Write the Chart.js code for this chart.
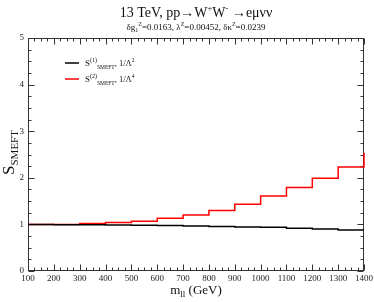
<!DOCTYPE html>
<html>
<head>
<meta charset="utf-8">
<script src="https://cdn.jsdelivr.net/npm/chart.js@4/dist/chart.umd.min.js"></script>
<style>
  html, body { margin: 0; padding: 0; background: #fff; }
  #wrap { width: 374px; height: 302px; position: relative; }
</style>
</head>
<body>
<div id="wrap"><canvas id="c" width="374" height="302"></canvas></div>
<script>
// ---- data ----
const binStarts = [100, 200, 300, 400, 500, 600, 700, 800, 900, 1000, 1100, 1200, 1300, 1400];
const smeft1 = [1.00, 0.995, 0.99, 0.985, 0.98, 0.975, 0.965, 0.955, 0.945, 0.94, 0.915, 0.90, 0.88, 0.88];
const smeft2 = [1.00, 1.00, 1.02, 1.04, 1.07, 1.13, 1.20, 1.30, 1.43, 1.61, 1.79, 1.99, 2.23, 2.54];
const xTicks = [100, 200, 300, 400, 500, 600, 700, 800, 900, 1000, 1100, 1200, 1300, 1400];
const yTicks = [0, 1, 2, 3, 4, 5];
const seriesNames = ['S(1) SMEFT, 1/Λ2', 'S(2) SMEFT, 1/Λ4'];

const SERIF = '"Liberation Serif", "Times New Roman", serif';
const FRAME = '#333';

function runsWidth(ctx, runs) {
  let w = 0;
  for (const r of runs) { ctx.font = r.size + 'px ' + SERIF; w += ctx.measureText(r.t).width; }
  return w;
}
function drawRuns(ctx, runs, x, y, align) {
  let w = runsWidth(ctx, runs);
  let cx = align === 'center' ? x - w / 2 : (align === 'right' ? x - w : x);
  ctx.textAlign = 'left';
  ctx.textBaseline = 'alphabetic';
  for (const r of runs) {
    ctx.font = r.size + 'px ' + SERIF;
    ctx.fillText(r.t, cx, y + (r.dy || 0));
    cx += ctx.measureText(r.t).width;
  }
}

const decor = {
  id: 'decor',
  beforeDatasetsDraw(chart) {
    const ctx = chart.ctx;
    const a = chart.chartArea;
    const xs = chart.scales.x, ys = chart.scales.y;
    const L = Math.round(a.left) + 0.5, R = Math.round(a.right) - 0.5;
    const T = Math.round(a.top) + 0.5, B = Math.round(a.bottom) - 0.5;
    ctx.save();
    ctx.strokeStyle = FRAME;
    ctx.lineWidth = 1;
    ctx.strokeRect(L, T, R - L, B - T);
    // ticks (inward, all four sides)
    ctx.beginPath();
    for (let v = xs.min; v <= xs.max + 0.01; v += 25) {
      const px = Math.round(xs.getPixelForValue(v)) + 0.5;
      const len = (Math.abs((v - 100) % 100) < 0.01) ? 6 : 3;
      ctx.moveTo(px, B); ctx.lineTo(px, B - len);
      ctx.moveTo(px, T); ctx.lineTo(px, T + len);
    }
    for (let v = ys.min; v <= ys.max + 0.001; v += 0.25) {
      const py = Math.round(ys.getPixelForValue(v)) + 0.5;
      const len = (Math.abs(v - Math.round(v)) < 0.001) ? 6 : 3;
      ctx.moveTo(L, py); ctx.lineTo(L + len, py);
      ctx.moveTo(R, py); ctx.lineTo(R - len, py);
    }
    ctx.stroke();
    ctx.restore();
  },
  afterDraw(chart) {
    const ctx = chart.ctx;
    const a = chart.chartArea;
    const xs = chart.scales.x, ys = chart.scales.y;
    ctx.save();
    // tick labels
    ctx.fillStyle = '#222';
    ctx.font = '9px ' + SERIF;
    ctx.textAlign = 'center'; ctx.textBaseline = 'middle';
    for (const v of xTicks) ctx.fillText(String(v), xs.getPixelForValue(v), 279);
    ctx.textAlign = 'right';
    for (const v of yTicks) ctx.fillText(String(v), 24, ys.getPixelForValue(v));
    // titles
    ctx.fillStyle = '#111';
    const cx = (a.left + a.right) / 2;
    drawRuns(ctx, [
      {t: '13 TeV, pp\u2192W', size: 14},
      {t: '+', size: 8.5, dy: -6},
      {t: 'W', size: 14},
      {t: '-', size: 8.5, dy: -6},
      {t: ' \u2192e\u03bc\u03bd\u03bd', size: 14}
    ], cx, 17, 'center');
    drawRuns(ctx, [
      {t: '\u03b4g', size: 9},
      {t: '1', size: 6, dy: 2},
      {t: 'Z', size: 6, dy: -4},
      {t: '=0.0163, \u03bb', size: 9},
      {t: 'Z', size: 6, dy: -4},
      {t: '=0.00452, \u03b4\u03ba', size: 9},
      {t: 'Z', size: 6, dy: -4},
      {t: '=0.0239', size: 9}
    ], cx, 30, 'center');
    // x axis title
    drawRuns(ctx, [
      {t: 'm', size: 13},
      {t: 'll', size: 9, dy: 3},
      {t: ' (GeV)', size: 13}
    ], cx, 294, 'center');
    // y axis title
    ctx.save();
    ctx.translate(13.5, (a.top + a.bottom) / 2 - 2);
    ctx.rotate(-Math.PI / 2);
    drawRuns(ctx, [
      {t: 'S', size: 17},
      {t: 'SMEFT', size: 11, dy: 4}
    ], 0, 0, 'center');
    ctx.restore();
    // legend
    const legendY = [63, 79];
    const legendCol = ['#000', '#ff0000'];
    for (let i = 0; i < 2; i++) {
      ctx.strokeStyle = legendCol[i];
      ctx.lineWidth = 1.5;
      ctx.beginPath();
      ctx.moveTo(65, legendY[i]); ctx.lineTo(79, legendY[i]);
      ctx.stroke();
      ctx.fillStyle = '#111';
      drawRuns(ctx, [
        {t: 'S', size: 9},
        {t: i === 0 ? '(1)' : '(2)', size: 6, dy: -4},
        {t: 'SMEFT', size: 5.5, dy: 3},
        {t: ', 1/\u039b', size: 8.5},
        {t: i === 0 ? '2' : '4', size: 5.5, dy: -4}
      ], 85, legendY[i] + 3, 'left');
    }
    ctx.restore();
  }
};

new Chart(document.getElementById('c'), {
  type: 'line',
  data: {
    datasets: [
      { label: seriesNames[0], data: binStarts.map((x, i) => ({x, y: smeft1[i]})),
        borderColor: '#000', borderWidth: 1.5, stepped: 'before', pointRadius: 0, fill: false,
        clip: {left: 1, top: 1, right: 2, bottom: 1} },
      { label: seriesNames[1], data: binStarts.map((x, i) => ({x, y: smeft2[i]})),
        borderColor: '#ff0000', borderWidth: 1.5, stepped: 'before', pointRadius: 0, fill: false,
        clip: {left: 1, top: 1, right: 2, bottom: 1} }
    ]
  },
  options: {
    responsive: false,
    animation: false,
    events: [],
    layout: { padding: { left: 28, right: 10, top: 38, bottom: 31 } },
    scales: {
      x: { type: 'linear', min: 100, max: 1400, display: false },
      y: { type: 'linear', min: 0, max: 5, display: false }
    },
    plugins: { legend: { display: false }, title: { display: false }, tooltip: { enabled: false } }
  },
  plugins: [decor]
});
</script>
</body>
</html>
